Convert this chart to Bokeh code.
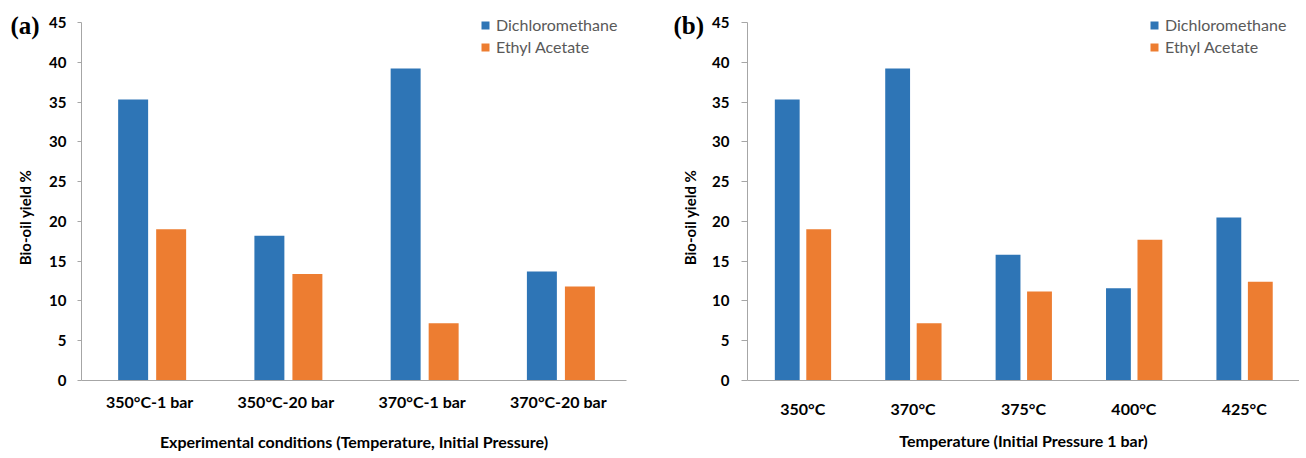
from math import pi
from bokeh.plotting import figure
from bokeh.models import (FactorRange, Range1d, Legend, LegendItem,
                          ColumnDataSource, FixedTicker)
from bokeh.core.properties import value
from bokeh.transform import dodge
from bokeh.layouts import row
from bokeh.embed import file_html
from bokeh.resources import INLINE

# ---------------- data ----------------
conds_a = ["350°C-1 bar", "350°C-20 bar", "370°C-1 bar", "370°C-20 bar"]
dcm_a = [35.3, 18.2, 39.2, 13.7]
ea_a = [19.0, 13.4, 7.2, 11.8]

temps_b = ["350°C", "370°C", "375°C", "400°C", "425°C"]
dcm_b = [35.3, 39.2, 15.8, 11.6, 20.5]
ea_b = [19.0, 7.2, 11.2, 17.7, 12.4]

y_ticks = [0, 5, 10, 15, 20, 25, 30, 35, 40, 45]
series_names = ["Dichloromethane", "Ethyl Acetate"]
y_title = "Bio-oil yield %"

BLUE = "#2E75B6"
ORANGE = "#ED7D31"
AXIS = "#A6A6A6"
FONT = "Lato"
H = 456
TOP = 10
FRAME_H = 370
BOTTOM = H - TOP - FRAME_H


def label_fig(width, panel_text, panel_x, ylab_x):
    # frame aligned with the chart frames; data y == H - page y
    f = figure(width=width, height=H, x_range=Range1d(0, width),
               y_range=Range1d(BOTTOM, H - TOP),
               frame_height=FRAME_H,
               min_border_left=0, min_border_right=0,
               min_border_top=TOP, min_border_bottom=BOTTOM,
               x_axis_location=None, y_axis_location=None,
               output_backend="svg", toolbar_location=None,
               outline_line_color=None)
    f.grid.visible = False
    f.text(x=[panel_x], y=[H - 25], text=[panel_text],
           text_font=value("Liberation Serif"), text_font_style="bold",
           text_font_size="25px", text_baseline="middle", text_align="left",
           text_color="black")
    f.text(x=[ylab_x], y=[H - 217], text=[y_title], angle=pi / 2,
           text_font=value(FONT), text_font_style="bold",
           text_font_size="15px", text_baseline="middle", text_align="center",
           text_color="black")
    return f


def make_panel(cats, dcm, ea, xlabel, frame_w, border_left, border_right,
               off_blue, off_orange, bw, legend_x, tick_out, tick_standoff,
               xl_standoff, xt_standoff):
    src = ColumnDataSource(dict(cat=cats, dcm=dcm, ea=ea))
    p = figure(x_range=FactorRange(*cats), y_range=Range1d(0, 46.5),
               frame_width=frame_w, frame_height=FRAME_H,
               min_border_left=border_left, min_border_right=border_right,
               min_border_top=TOP, min_border_bottom=BOTTOM,
               output_backend="svg", toolbar_location=None,
               background_fill_color="white", border_fill_color="white",
               outline_line_color=None)
    p.height = H
    r1 = p.vbar(x=dodge("cat", off_blue, range=p.x_range), top="dcm",
                width=bw, source=src, fill_color=BLUE, line_color=None)
    r2 = p.vbar(x=dodge("cat", off_orange, range=p.x_range), top="ea",
                width=bw, source=src, fill_color=ORANGE, line_color=None)

    p.grid.visible = False

    # y axis
    ya = p.yaxis[0]
    ya.ticker = FixedTicker(ticks=y_ticks)
    ya.bounds = (0, 45)
    ya.minor_tick_line_color = None
    ya.major_tick_in = 0
    ya.major_tick_out = tick_out
    ya.major_tick_line_color = AXIS
    ya.axis_line_color = AXIS
    ya.major_label_text_font = FONT
    ya.major_label_text_font_style = "bold"
    ya.major_label_text_font_size = "15px"
    ya.major_label_text_color = "black"
    ya.major_label_standoff = tick_standoff

    # x axis
    xa = p.xaxis[0]
    xa.axis_line_color = AXIS
    xa.major_tick_line_color = None
    xa.major_tick_in = 0
    xa.major_tick_out = 0
    xa.minor_tick_line_color = None
    xa.major_label_text_font = FONT
    xa.major_label_text_font_style = "bold"
    xa.major_label_text_font_size = "16px"
    xa.major_label_text_color = "black"
    xa.major_label_standoff = xt_standoff
    xa.axis_label = xlabel
    xa.axis_label_text_font = FONT
    xa.axis_label_text_font_style = "bold"
    xa.axis_label_text_font_size = "16px"
    xa.axis_label_text_color = "black"
    xa.axis_label_standoff = xl_standoff

    legend = Legend(items=[LegendItem(label=series_names[0], renderers=[r1]),
                           LegendItem(label=series_names[1], renderers=[r2])],
                    location=(legend_x, 324), padding=0, margin=0, spacing=3,
                    glyph_width=10, glyph_height=10, label_height=19,
                    label_standoff=6, border_line_color=None,
                    background_fill_alpha=0,
                    label_text_font=FONT, label_text_font_size="16px",
                    label_text_color="#595959")
    p.add_layout(legend)
    return p


lab_a = label_fig(46, "(a)", 10, 24)
pa = make_panel(conds_a, dcm_a, ea_a,
                "Experimental conditions (Temperature, Initial Pressure)",
                frame_w=545, border_left=34, border_right=23,
                off_blue=-0.121, off_orange=0.158, bw=0.22, legend_x=399,
                tick_out=4, tick_standoff=11, xl_standoff=18, xt_standoff=11)
lab_b = label_fig(60, "(b)", 24, 40)
pb = make_panel(temps_b, dcm_b, ea_b,
                "Temperature (Initial Pressure 1 bar)",
                frame_w=552, border_left=38, border_right=0,
                off_blue=-0.14, off_orange=0.145, bw=0.225, legend_x=402,
                tick_out=6, tick_standoff=12, xl_standoff=10, xt_standoff=18)

layout = row(lab_a, pa, lab_b, pb)
open("out.html", "w").write(file_html(layout, INLINE))
